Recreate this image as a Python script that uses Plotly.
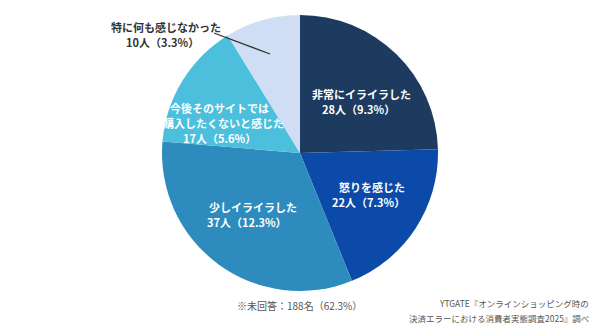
import plotly.graph_objects as go

categories = ["非常にイライラした", "怒りを感じた", "少しイライラした",
              "今後そのサイトでは|購入したくないと感じた", "特に何も感じなかった"]
counts = [28, 22, 37, 17, 10]
percents = ["9.3%", "7.3%", "12.3%", "5.6%", "3.3%"]
colors = ["#1d3a5f", "#0b4aa8", "#2e8bbd", "#4cbfdd", "#d0def5"]
note = "※未回答：188名（62.3%）"
source_lines = ["YTGATE『オンラインショッピング時の", "決済エラーにおける消費者実態調査2025』調べ"]

W, H = 600, 330
FONT = "Noto Sans CJK JP"

fig = go.Figure(go.Pie(
    labels=[c.replace("|", "") for c in categories], values=counts, sort=False,
    direction="clockwise", rotation=0,
    marker=dict(colors=colors, line=dict(width=0)),
    textinfo="none", hoverinfo="label+value", showlegend=False,
    domain=dict(x=[0.27, 0.73], y=[0.118, 0.955]),
))

# per-line label centers in pixels
line_pos = [
    [(361, 94), (358, 109)],
    [(372, 187), (368, 202)],
    [(253, 207), (247, 222)],
    [(220, 108), (223, 123), (219, 138)],
    [(166, 27), (162, 42)],
]
annotations = []
for i, (cat, n, p) in enumerate(zip(categories, counts, percents)):
    lines = cat.split("|") + [f"{n}人（{p}）"]
    color = "#333333" if i == 4 else "white"
    for txt, (x, y) in zip(lines, line_pos[i]):
        annotations.append(dict(
            x=x / W, y=1 - y / H, xref="paper", yref="paper",
            text=f"<b>{txt}</b>", showarrow=False, height=12, borderpad=0,
            font=dict(family=FONT, size=11, color=color),
            xanchor="center", yanchor="middle"))

annotations.append(dict(
    x=299 / W, y=1 - 305 / H, xref="paper", yref="paper", text=note,
    showarrow=False, font=dict(family=FONT, size=10, color="#555555"),
    xanchor="center", yanchor="middle"))
for txt, y in zip(source_lines, [303, 318]):
    annotations.append(dict(
        x=590 / W, y=1 - y / H, xref="paper", yref="paper", text=txt,
        showarrow=False, height=12, borderpad=0,
        font=dict(family=FONT, size=8.5, color="#555555"),
        xanchor="right", yanchor="middle"))

fig.update_layout(
    width=W, height=H, margin=dict(l=0, r=0, t=0, b=0),
    paper_bgcolor="white", plot_bgcolor="white",
    annotations=annotations,
    shapes=[dict(type="line", xref="paper", yref="paper",
                 x0=214 / W, y0=1 - 33 / H, x1=270 / W, y1=1 - 54 / H,
                 line=dict(color="#333333", width=1.2))],
)

fig.write_html("out.html")
